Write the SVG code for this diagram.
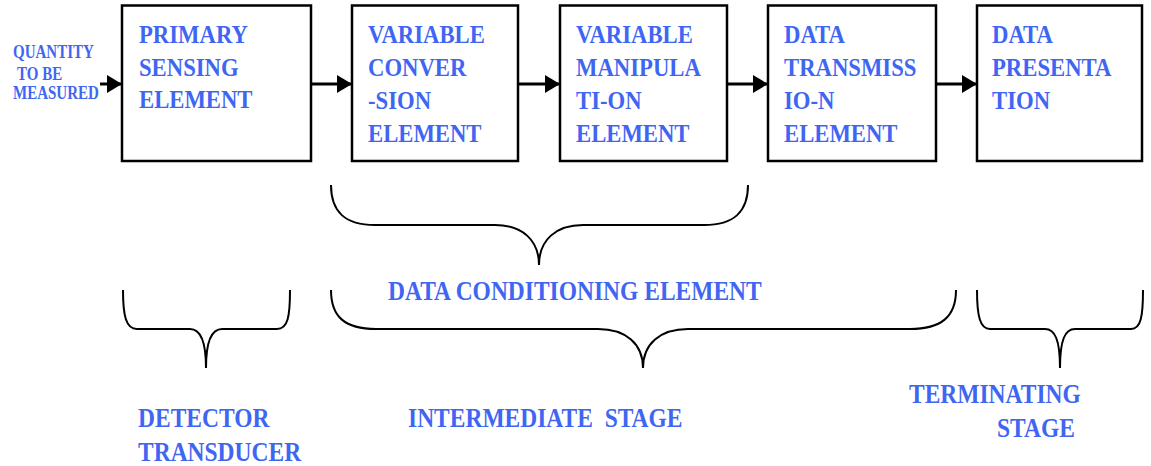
<svg xmlns="http://www.w3.org/2000/svg" width="1151" height="466" viewBox="0 0 1151 466">
<defs>
<style>
.box{fill:#fff;stroke:#000;stroke-width:2.5}
.t{font-family:"Liberation Serif","Times New Roman",serif;font-weight:bold;fill:#3f66f2;font-size:22.7px}
.s{font-size:15px}
.b{font-size:23.5px}
.con{stroke:#000;stroke-width:3;fill:none}
.br{stroke:#000;stroke-width:2;fill:none}
</style>
<marker id="ah" markerUnits="userSpaceOnUse" markerWidth="16" markerHeight="18" refX="15" refY="9" orient="auto"><path d="M0,0 L15,9 L0,18 z" fill="#000"/></marker>
</defs>
<rect width="1151" height="466" fill="#fff"/>
<g id="input-label">
<text class="t s" transform="matrix(1 0 0 1.25 0 58)"><tspan x="13" y="0">QUANTITY</tspan><tspan x="17" y="17.4">TO BE</tspan><tspan x="13" y="32.8">MEASURED</tspan></text>
</g>
<g id="connectors">
<line class="con" x1="100" y1="84" x2="122" y2="84" marker-end="url(#ah)"/>
<line class="con" x1="311" y1="84" x2="352" y2="84" marker-end="url(#ah)"/>
<line class="con" x1="518" y1="84" x2="560" y2="84" marker-end="url(#ah)"/>
<line class="con" x1="727" y1="84" x2="768" y2="84" marker-end="url(#ah)"/>
<line class="con" x1="936" y1="84" x2="977" y2="84" marker-end="url(#ah)"/>
</g>
<g id="primary-sensing">
<rect class="box" x="122" y="5.5" width="189" height="155.5"/>
<text class="t" transform="matrix(1 0 0 1.13 139 43)"><tspan x="0" y="0">PRIMARY</tspan><tspan x="0" y="28.8">SENSING</tspan><tspan x="0" y="57.6">ELEMENT</tspan></text>
</g>
<g id="variable-conversion">
<rect class="box" x="352" y="5.5" width="166" height="155.5"/>
<text class="t" transform="matrix(1 0 0 1.13 368 43)"><tspan x="0" y="0">VARIABLE</tspan><tspan x="0" y="29.2">CONVER</tspan><tspan x="0" y="58.4">-SION</tspan><tspan x="0" y="87.6">ELEMENT</tspan></text>
</g>
<g id="variable-manipulation">
<rect class="box" x="560" y="5.5" width="167" height="155.5"/>
<text class="t" transform="matrix(1 0 0 1.13 576 43)"><tspan x="0" y="0">VARIABLE</tspan><tspan x="0" y="29.2">MANIPULA</tspan><tspan x="0" y="58.4">TI-ON</tspan><tspan x="0" y="87.6">ELEMENT</tspan></text>
</g>
<g id="data-transmission">
<rect class="box" x="768" y="5.5" width="168" height="155.5"/>
<text class="t" transform="matrix(1 0 0 1.13 784 43)"><tspan x="0" y="0">DATA</tspan><tspan x="0" y="29.2">TRANSMISS</tspan><tspan x="0" y="58.4">IO-N</tspan><tspan x="0" y="87.6">ELEMENT</tspan></text>
</g>
<g id="data-presentation">
<rect class="box" x="977" y="5.5" width="165" height="155.5"/>
<text class="t" transform="matrix(1 0 0 1.13 992 43)"><tspan x="0" y="0">DATA</tspan><tspan x="0" y="29.2">PRESENTA</tspan><tspan x="0" y="58.4">TION</tspan></text>
</g>
<g id="braces">
<path class="br" d="M331,185 C331,212 345,225 375,225 L495,225 C522,225 539,240 539,265 C539,240 556,225 583,225 L704,225 C734,225 748,212 748,185"/>
<path class="br" d="M123,290 C123,316 126,329 137,329 L190,329 C200,329 206,340 206,368 C206,340 212,329 222,329 L277,329 C288,329 290,316 290,290"/>
<path class="br" d="M331,290 C331,317 345,329 376,329 L598,329 C626,329 643,344 643,368 C643,344 660,329 688,329 L910,329 C941,329 956,317 956,290"/>
<path class="br" d="M977,290 C977,316 980,329 990,329 L1045,329 C1055,329 1060,340 1060,368 C1060,340 1065,329 1075,329 L1131,329 C1141,329 1143,316 1143,290"/>
</g>
<g id="labels">
<text class="t b" transform="matrix(1 0 0 1.12 388 300)">DATA CONDITIONING ELEMENT</text>
<text class="t b" transform="matrix(1 0 0 1.12 138 427)"><tspan x="0" y="0">DETECTOR</tspan><tspan x="0" y="30">TRANSDUCER</tspan></text>
<text class="t b" xml:space="preserve" transform="matrix(1 0 0 1.12 408 427)">INTERMEDIATE  STAGE</text>
<text class="t b" transform="matrix(1 0 0 1.12 909 403)"><tspan x="0" y="0">TERMINATING</tspan><tspan x="88" y="30">STAGE</tspan></text>
</g>
</svg>
